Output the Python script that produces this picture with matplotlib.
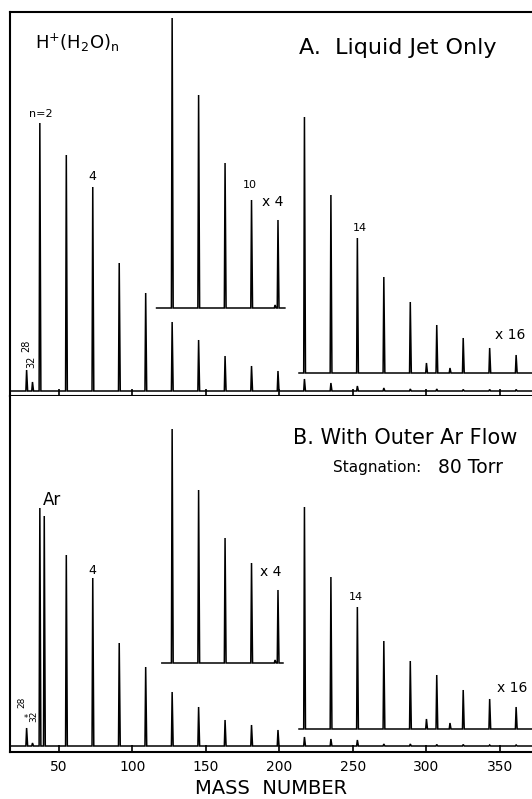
"""
Cluster ion mass spectra, H+(H2O)n from a liquid jet
A: liquid jet only, B: with outer Ar flow
"""

import matplotlib.pyplot as plt
import numpy as np

#------------------------------------------------------------------------------
# peak positions (mass number) and heights (arb. units)
#------------------------------------------------------------------------------
mass_main_A = [28, 32, 37, 55, 73, 91, 109, 127, 145, 163, 181, 199,
               217, 235, 253, 271, 289, 307, 325, 343, 361]
int_main_A = [21, 9, 268, 236, 204, 128, 98, 69, 51, 35, 25, 20,
              12, 8, 5, 3, 2, 2, 1.5, 1.5, 1.5]

mass_x4_A = [127, 145, 163, 181, 197, 199]
int_x4_A = [290, 213, 145, 108, 3, 88]
span_x4_A = [116.4, 203.7]

mass_x16_A = [217, 235, 253, 271, 289, 300, 307, 316, 325, 343, 361]
int_x16_A = [256, 178, 135, 96, 71, 10, 48, 5, 35, 25, 18]
span_x16_A = [213.3, 380]

mass_main_B = [28, 32, 37, 40, 55, 73, 91, 109, 127, 145, 163, 181, 199,
               217, 235, 253, 271, 289, 307, 325, 343, 361]
int_main_B = [18, 3, 238, 230, 191, 168, 103, 79, 54, 39, 26, 21, 16,
              9, 7, 6, 2, 2, 1.5, 1.5, 1, 1]

mass_x4_B = [127, 145, 163, 181, 197, 199]
int_x4_B = [234, 173, 125, 100, 3, 73]
span_x4_B = [120.0, 202.4]

mass_x16_B = [217, 235, 253, 271, 289, 300, 307, 316, 325, 343, 361]
int_x16_B = [222, 152, 122, 88, 68, 10, 54, 6, 39, 30, 22]
span_x16_B = [213.3, 380]

xticks = [50, 100, 150, 200, 250, 300, 350]

#------------------------------------------------------------------------------
def trace(ax, masses, heights, span, offset=0.0, lw=1.1):
    # stick spectrum drawn as one continuous trace on a flat baseline
    xs = [span[0]]
    ys = [offset]
    for m, h in zip(masses, heights):
        xs += [m - 0.5, m, m + 0.7]
        ys += [offset, offset + h, offset]
    xs.append(span[1])
    ys.append(offset)
    ax.plot(xs, ys, color='black', linewidth=lw, solid_joinstyle='miter')

#------------------------------------------------------------------------------
fig = plt.figure(figsize=(5.32, 7.99), dpi=100)
axA = fig.add_axes([10/532, 403/799, 522/532, 384/799])
axB = fig.add_axes([10/532, 47/799, 522/532, 356/799])

XLIM = (16.7, 371.8)
axA.set_xlim(XLIM)
axB.set_xlim(XLIM)
axA.set_ylim(-5, 379)
axB.set_ylim(-6, 350)

trace(axA, mass_main_A, int_main_A, [14, 380])
trace(axA, mass_x4_A, int_x4_A, span_x4_A, offset=83)
trace(axA, mass_x16_A, int_x16_A, span_x16_A, offset=18)

trace(axB, mass_main_B, int_main_B, [14, 380])
trace(axB, mass_x4_B, int_x4_B, span_x4_B, offset=83)
trace(axB, mass_x16_B, int_x16_B, span_x16_B, offset=17)

for ax in (axA, axB):
    ax.spines['right'].set_visible(False)
    for s in ('left', 'top', 'bottom'):
        ax.spines[s].set_linewidth(1.5)
    ax.set_yticks([])
    ax.set_xticks(xticks)
    ax.tick_params(axis='x', direction='in', length=5, width=1.2, colors='black')
axB.spines['top'].set_visible(False)
axA.set_xticklabels([])
axB.set_xticklabels([str(t) for t in xticks], fontsize=10)
axB.tick_params(axis='x', pad=6)
axB.set_xlabel('MASS  NUMBER', fontsize=14, labelpad=3)

#--------------panel A labels---------------------------------------------------
axA.text(33.7, 348, r'H$^{+}$(H$_2$O)$_{\mathrm{n}}$', fontsize=13, ha='left', va='center')
axA.text(280.6, 343, 'A.  Liquid Jet Only', fontsize=16, ha='center', va='center')
axA.text(37.8, 272, 'n=2', fontsize=8, ha='center', va='bottom')
axA.text(73, 214, '4', fontsize=9, ha='center', va='center')
axA.text(180, 206, '10', fontsize=8, ha='center', va='center')
axA.text(195.6, 189, 'x 4', fontsize=10, ha='center', va='center')
axA.text(254.8, 163, '14', fontsize=8, ha='center', va='center')
axA.text(356.8, 56, 'x 16', fontsize=10, ha='center', va='center')
axA.text(27.6, 45, '28', fontsize=7, rotation=90, ha='center', va='center')
axA.text(31.0, 29, '32', fontsize=7, rotation=90, ha='center', va='center')

#--------------panel B labels---------------------------------------------------
axB.text(285.4, 308, 'B. With Outer Ar Flow', fontsize=15, ha='center', va='center')
axB.text(236.4, 279, 'Stagnation:', fontsize=11, ha='left', va='center')
axB.text(307.8, 279, '80 Torr', fontsize=13.5, ha='left', va='center')
axB.text(39.1, 246, 'Ar', fontsize=12, ha='left', va='center')
axB.text(72.4, 176, '4', fontsize=9, ha='center', va='center')
axB.text(194.2, 174, 'x 4', fontsize=10, ha='center', va='center')
axB.text(252, 149, '14', fontsize=8, ha='center', va='center')
axB.text(358.5, 58, 'x 16', fontsize=10, ha='center', va='center')
axB.text(24.6, 44, '28', fontsize=6.5, rotation=90, ha='center', va='center')
axB.text(27.8, 28, '*', fontsize=6, ha='center', va='center')
axB.text(32.6, 30, '32', fontsize=6.5, rotation=90, ha='center', va='center')

plt.savefig('out.png', dpi=100)
